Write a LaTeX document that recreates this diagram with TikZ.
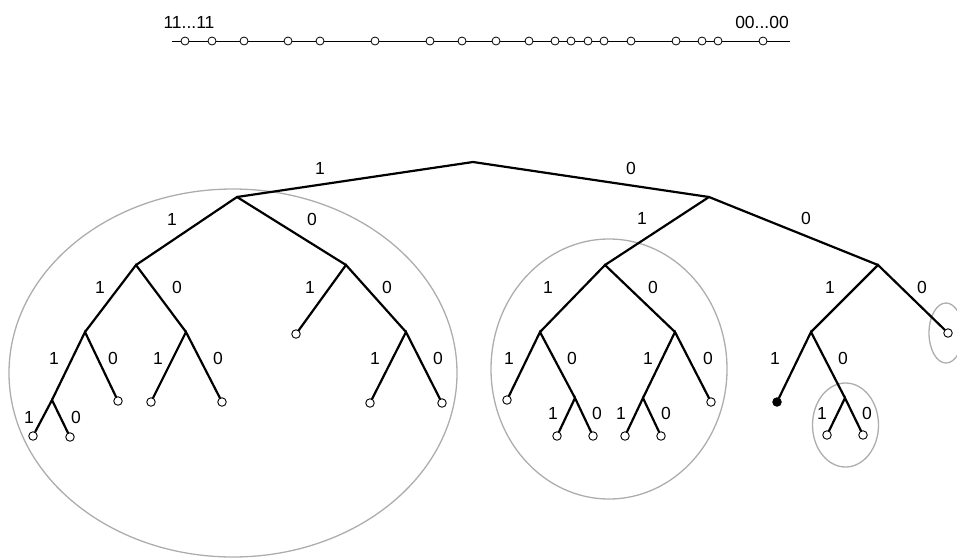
\documentclass[tikz,border=0pt]{standalone}
\usepackage{fontspec}
\setmainfont{Liberation Sans}
\begin{document}
\begin{tikzpicture}[x=1pt,y=-1pt,
  edge/.style={line width=2.2pt,line cap=round},
  leaf/.style={circle,draw=black,fill=white,line width=0.9pt,inner sep=0pt,minimum size=8.5pt},
  fleaf/.style={leaf,fill=black},
  dot/.style={circle,draw=black,fill=white,line width=0.8pt,inner sep=0pt,minimum size=8pt},
  lab/.style={font=\fontsize{17.5}{21}\selectfont,inner sep=0pt},
  grp/.style={draw=black!32,line width=1.3pt}]
\useasboundingbox (0,0) rectangle (957,558);
% groups
\draw[grp] (233,373) ellipse [x radius=224pt, y radius=184pt];
\draw[grp] (609,369) ellipse [x radius=118pt, y radius=130pt];
\draw[grp] (845.5,425) ellipse [x radius=33pt, y radius=42pt];
\draw[grp] (946,333) ellipse [x radius=17pt, y radius=30pt];
% top line
\coordinate (lineL) at (172,41);
\coordinate (lineR) at (790,41);
\draw[line width=0.8pt] (lineL) -- (lineR);
\foreach \x [count=\i] in {185,212,244,288,320,375,430,462,496,529,555,571,588,604,631,676,702,718,763}
  \node[dot] (d\i) at (\x,41) {};
\node[lab] (tl) at (189,22) {11...11};
\node[lab] (tr) at (762,22) {00...00};
% tree nodes
\coordinate (r) at (473,162);
\coordinate (a) at (237,197);
\coordinate (b) at (709,197);
\coordinate (aa) at (136,265);
\coordinate (ab) at (346,265);
\coordinate (aaa) at (85,332);
\coordinate (aab) at (186,332);
\coordinate (aaaa) at (52,400);
\node[leaf] (aaab) at (118,401) {};
\node[leaf] (aaaaa) at (33,436) {};
\node[leaf] (aaaab) at (70,437) {};
\node[leaf] (aaba) at (151,402) {};
\node[leaf] (aabb) at (222,402) {};
\node[leaf] (aba) at (296,334) {};
\coordinate (abb) at (406,332);
\node[leaf] (abba) at (370,403) {};
\node[leaf] (abbb) at (442,403) {};
\coordinate (ba) at (605,265);
\coordinate (bb) at (878,265);
\coordinate (baa) at (540,332);
\coordinate (bab) at (675,332);
\node[leaf] (baaa) at (507,400) {};
\coordinate (baab) at (575,398);
\node[leaf] (baaba) at (557,436) {};
\node[leaf] (baabb) at (593,436) {};
\coordinate (baba) at (643,398);
\node[leaf] (babb) at (711,402) {};
\node[leaf] (babaa) at (625,436) {};
\node[leaf] (babab) at (661,436) {};
\coordinate (bba) at (811,332);
\node[leaf] (bbb) at (948,333) {};
\node[fleaf] (bbaa) at (777,402) {};
\coordinate (bbab) at (845,398);
\node[leaf] (bbaba) at (827,435) {};
\node[leaf] (bbabb) at (863,435) {};
% edges
\draw[edge] (a) -- (r) -- (b);
\draw[edge] (aa) -- (a) -- (ab);
\draw[edge] (aaa) -- (aa) -- (aab);
\draw[edge] (aaaa) -- (aaa) -- (aaab);
\draw[edge] (aaaaa) -- (aaaa) -- (aaaab);
\draw[edge] (aaba) -- (aab) -- (aabb);
\draw[edge] (aba) -- (ab) -- (abb);
\draw[edge] (abba) -- (abb) -- (abbb);
\draw[edge] (ba) -- (b) -- (bb);
\draw[edge] (baa) -- (ba) -- (bab);
\draw[edge] (baaa) -- (baa) -- (baab);
\draw[edge] (baaba) -- (baab) -- (baabb);
\draw[edge] (baba) -- (bab) -- (babb);
\draw[edge] (babaa) -- (baba) -- (babab);
\draw[edge] (bba) -- (bb) -- (bbb);
\draw[edge] (bbaa) -- (bba) -- (bbab);
\draw[edge] (bbaba) -- (bbab) -- (bbabb);
% labels
\node[lab] (l1) at (320,168) {1};
\node[lab] (l2) at (631,168) {0};
\node[lab] (l3) at (172,219) {1};
\node[lab] (l4) at (312,219) {0};
\node[lab] (l5) at (100,287) {1};
\node[lab] (l6) at (177,287) {0};
\node[lab] (l7) at (54,358) {1};
\node[lab] (l8) at (113,358) {0};
\node[lab] (l9) at (29,417) {1};
\node[lab] (l10) at (76,417) {0};
\node[lab] (l11) at (158,358) {1};
\node[lab] (l12) at (218,358) {0};
\node[lab] (l13) at (310,287) {1};
\node[lab] (l14) at (387,287) {0};
\node[lab] (l15) at (375,358) {1};
\node[lab] (l16) at (438,358) {0};
\node[lab] (l17) at (642,218) {1};
\node[lab] (l18) at (806,218) {0};
\node[lab] (l19) at (548,287) {1};
\node[lab] (l20) at (653,287) {0};
\node[lab] (l21) at (509,358) {1};
\node[lab] (l22) at (572,358) {0};
\node[lab] (l23) at (553,413) {1};
\node[lab] (l24) at (597,413) {0};
\node[lab] (l25) at (648,358) {1};
\node[lab] (l26) at (708,358) {0};
\node[lab] (l27) at (621,413) {1};
\node[lab] (l28) at (666,413) {0};
\node[lab] (l29) at (830,287) {1};
\node[lab] (l30) at (922,287) {0};
\node[lab] (l31) at (775,358) {1};
\node[lab] (l32) at (843,358) {0};
\node[lab] (l33) at (822,413) {1};
\node[lab] (l34) at (867,413) {0};
\end{tikzpicture}
\end{document}
